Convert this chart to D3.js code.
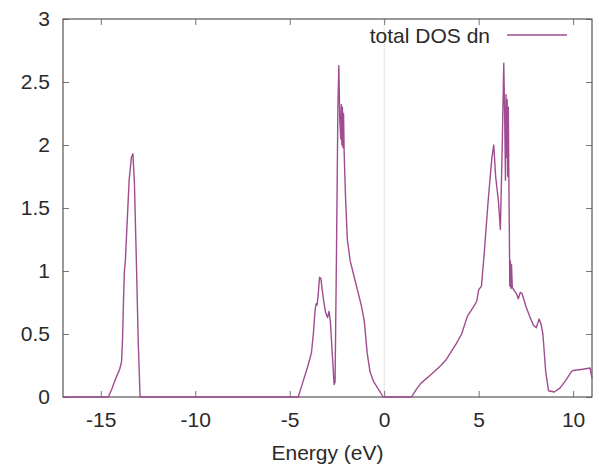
<!DOCTYPE html>
<html>
<head>
<meta charset="utf-8">
<script src="https://cdn.jsdelivr.net/npm/d3@7"></script>
<style>
  body { margin: 0; background: #fff; }
  svg { font-family: "Liberation Sans", Arial, sans-serif; }
</style>
</head>
<body>
<svg width="602" height="466"></svg>
<script>
// energy (eV) and total DOS (spin down)
const energy = [
  -17, -14.6, -14.4, -14.2, -14.0, -13.9, -13.85, -13.8, -13.75, -13.7, -13.6, -13.5,
  -13.38, -13.3, -13.22, -13.12, -13.02, -12.92,
  -4.55, -4.3, -4.05, -3.85, -3.75, -3.65, -3.6, -3.55, -3.5, -3.42, -3.35, -3.28,
  -3.2, -3.1, -3.0, -2.92, -2.85, -2.75, -2.65, -2.6, -2.52, -2.45, -2.4, -2.35,
  -2.3, -2.27, -2.24, -2.21, -2.18, -2.15, -2.12, -2.05, -1.95, -1.8, -1.6, -1.4,
  -1.2, -1.05, -0.9, -0.75, -0.55, -0.3, -0.05,
  1.45, 1.7, 1.95, 2.5, 3.0, 3.3, 3.8, 4.1, 4.4, 4.7, 4.9, 5.0, 5.15, 5.3, 5.5,
  5.7, 5.8, 5.9, 6.05, 6.15, 6.25, 6.33, 6.38, 6.42, 6.45, 6.48, 6.51, 6.54, 6.57,
  6.6, 6.65, 6.68, 6.71, 6.74, 6.78, 6.9, 7.0, 7.1, 7.2, 7.3, 7.5, 7.7, 7.9, 8.05,
  8.2, 8.3, 8.4, 8.55, 8.7, 9.0, 9.3, 9.6, 9.9, 10.0, 10.5, 10.9, 11.0
];
const dos = [
  0, 0, 0.07, 0.15, 0.22, 0.28, 0.45, 0.75, 1.0, 1.08, 1.4, 1.72,
  1.9, 1.93, 1.7, 1.1, 0.45, 0,
  0, 0.12, 0.24, 0.35, 0.5, 0.7, 0.74, 0.73, 0.8, 0.95, 0.94, 0.85,
  0.76, 0.67, 0.63, 0.68, 0.6, 0.35, 0.1, 0.12, 1.2, 2.3, 2.63, 2.2,
  2.05, 2.32, 2.0, 2.3, 1.98, 2.25, 1.95, 1.6, 1.25, 1.08, 0.96, 0.84,
  0.72, 0.6, 0.35, 0.2, 0.12, 0.06, 0,
  0, 0.06, 0.11, 0.18, 0.25, 0.3, 0.42, 0.5, 0.64, 0.71, 0.76, 0.85, 0.88, 1.15, 1.55,
  1.9, 2.0, 1.75, 1.55, 1.33, 2.0, 2.65, 2.2, 1.72, 2.4, 1.9, 2.36, 1.75, 2.3,
  1.72, 0.88, 1.08, 0.86, 1.05, 0.87, 0.84, 0.82, 0.78, 0.83, 0.82, 0.72, 0.64, 0.57, 0.55,
  0.62, 0.58, 0.5, 0.2, 0.05, 0.04, 0.07, 0.13, 0.2, 0.21, 0.22, 0.23, 0.15
];
const xTicks = [-15, -10, -5, 0, 5, 10];
const yTicks = [0, 0.5, 1, 1.5, 2, 2.5, 3];

const svg = d3.select("svg");
const plot = { left: 63, right: 592, top: 19, bottom: 397 };
const lineColor = "#a04c90";
const textColor = "#2a2a2a";
const fontSize = 21;

const x = d3.scaleLinear().domain([-17, 11]).range([plot.left, plot.right]);
const y = d3.scaleLinear().domain([0, 3]).range([plot.bottom, plot.top]);

const data = energy.map((e, i) => ({ e, d: dos[i] }));

// zero energy marker
svg.append("line")
  .attr("x1", x(0)).attr("x2", x(0))
  .attr("y1", y(0)).attr("y2", y(3))
  .attr("stroke", "#c8c8c8")
  .attr("stroke-width", 1)
  .attr("stroke-dasharray", "1,1");

// axes with inward ticks on all four sides (plain hyphen for minus, like gnuplot)
const tickFmt = d => String(d);
svg.append("g")
  .attr("transform", `translate(0,${plot.bottom})`)
  .call(d3.axisBottom(x).tickValues(xTicks).tickSizeInner(-6).tickSizeOuter(0).tickPadding(15).tickFormat(tickFmt));
svg.append("g")
  .attr("transform", `translate(0,${plot.top})`)
  .call(d3.axisTop(x).tickValues(xTicks).tickSizeInner(-6).tickSizeOuter(0).tickFormat(""));
svg.append("g")
  .attr("transform", `translate(${plot.left},0)`)
  .call(d3.axisLeft(y).tickValues(yTicks).tickSizeInner(-6).tickSizeOuter(0).tickPadding(13).tickFormat(tickFmt));
svg.append("g")
  .attr("transform", `translate(${plot.right},0)`)
  .call(d3.axisRight(y).tickValues(yTicks).tickSizeInner(-6).tickSizeOuter(0).tickFormat(""));

svg.selectAll(".domain").remove();
svg.selectAll(".tick line").attr("stroke", "#777");
svg.selectAll(".tick text")
  .attr("font-size", fontSize)
  .attr("font-family", "Liberation Sans, Arial, sans-serif")
  .attr("fill", textColor);

// frame
svg.append("rect")
  .attr("x", plot.left).attr("y", plot.top)
  .attr("width", plot.right - plot.left).attr("height", plot.bottom - plot.top)
  .attr("fill", "none")
  .attr("stroke", "#555")
  .attr("stroke-width", 1.2);

// DOS curve
svg.append("path")
  .datum(data)
  .attr("fill", "none")
  .attr("stroke", lineColor)
  .attr("stroke-width", 1.4)
  .attr("stroke-linejoin", "round")
  .attr("d", d3.line().x(d => x(d.e)).y(d => y(d.d)));

// legend
svg.append("text")
  .attr("x", 490).attr("y", 43)
  .attr("text-anchor", "end")
  .attr("font-size", fontSize)
  .attr("fill", textColor)
  .text("total DOS dn");
svg.append("line")
  .attr("x1", 507).attr("x2", 567)
  .attr("y1", 35).attr("y2", 35)
  .attr("stroke", lineColor)
  .attr("stroke-width", 1.4);

// axis title
svg.append("text")
  .attr("x", (plot.left + plot.right) / 2).attr("y", 460)
  .attr("text-anchor", "middle")
  .attr("font-size", fontSize)
  .attr("fill", textColor)
  .text("Energy (eV)");
</script>
</body>
</html>
